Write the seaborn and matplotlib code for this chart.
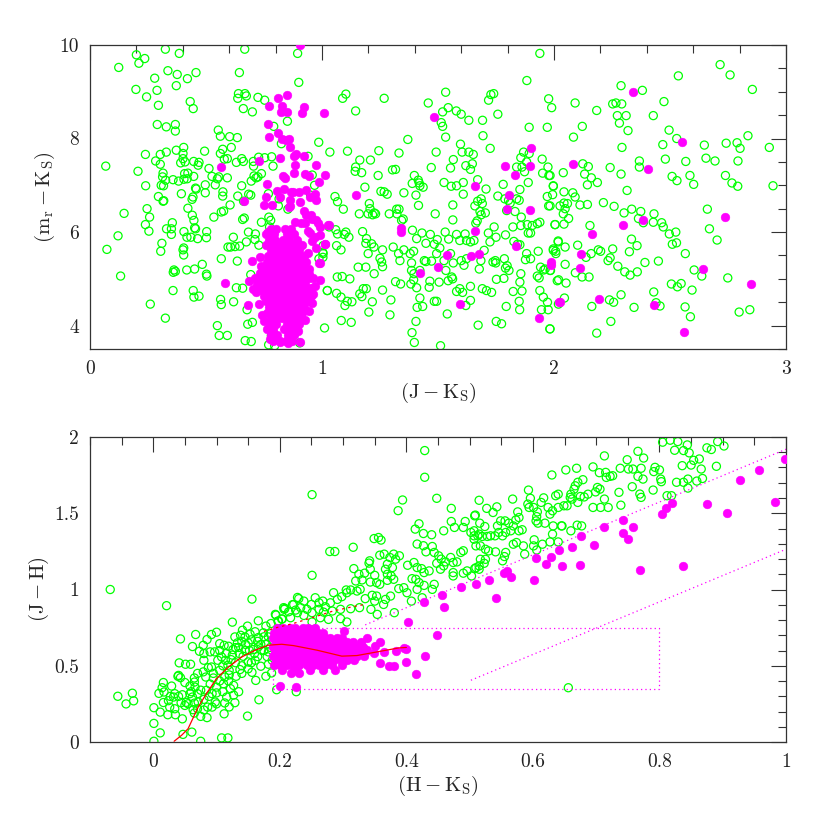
import numpy as np
import pandas as pd
import matplotlib
matplotlib.use("Agg")
import matplotlib.pyplot as plt
from matplotlib.ticker import MultipleLocator, FuncFormatter
import seaborn as sns

# ---------------- data: top panel (J-Ks, mr-Ks) ----------------
top_field = [
    (0.20,9.79),(0.236,9.71),(0.211,9.61),(0.325,9.91),(0.385,9.82),(0.124,9.52),(0.336,9.45),(0.376,9.37),
    (0.42,9.28),(0.457,9.41),(0.279,9.29),(0.372,9.13),(0.289,9.03),(0.198,9.05),(0.244,8.89),(0.295,8.71),
    (0.432,8.79),(0.445,8.64),(0.667,9.91),(0.644,9.41),(0.895,9.82),(0.90,9.2),(0.64,8.96),(0.668,8.96),
    (0.637,8.86),(0.674,8.91),(0.661,8.64),(0.70,8.57),(0.724,8.88),(0.753,8.82),
    (0.29,8.3),(0.329,8.25),(0.368,8.3),(0.368,8.16),(0.553,8.18),(0.562,8.05),(0.602,8.04),(0.635,8.02),
    (0.609,7.81),(0.572,7.77),(0.562,7.68),(0.494,7.73),(0.404,7.81),(0.372,7.75),(0.329,7.71),(0.239,7.66),
    (0.303,7.66),(0.283,7.52),(0.303,7.45),(0.401,7.68),(0.401,7.57),(0.391,7.48),(0.41,7.5),(0.447,7.51),
    (0.47,7.49),(0.466,7.43),(0.513,7.36),(0.579,7.56),(0.592,7.57),(0.631,7.49),(0.654,7.57),(0.661,7.51),
    (0.704,7.51),(0.705,7.41),(0.727,7.6),(0.753,7.59),(0.783,7.61),(0.789,7.41),(0.068,7.41),(0.207,7.3),
    (0.315,7.26),(0.313,7.18),(0.326,7.11),(0.307,7.0),(0.317,6.99),(0.358,7.12),(0.382,7.09),(0.405,7.13),
    (0.419,7.14),(0.408,7.25),(0.422,7.26),(0.447,7.19),(0.24,6.99),(0.458,6.92),(0.497,7.01),(0.497,6.84),
    (0.54,7.01),(0.526,7.19),(0.549,7.14),(0.555,7.18),(0.592,7.16),(0.654,6.99),(0.695,7.09),(0.707,7.2),
    (0.716,7.16),(0.573,6.86),(0.572,6.77),(0.295,6.76),(0.315,6.66),(0.318,6.67),(0.394,6.82),(0.444,6.75),
    (0.44,6.7),(0.455,6.94),(0.637,6.77),(0.662,6.66),(0.684,6.81),(0.693,6.79),(0.604,6.58),(0.422,6.51),
    (0.246,6.5),(0.257,6.32),(0.239,6.16),(0.254,6.02),(0.147,6.4),(0.355,6.2),(0.33,6.07),(0.351,6.07),
    (0.351,5.95),(0.441,6.36),(0.448,6.25),(0.451,6.09),(0.455,6.07),(0.405,6.01),(0.418,5.89),(0.435,5.89),
    (0.464,5.86),(0.503,6.01),(0.502,5.88),(0.534,6.32),(0.566,6.43),(0.576,6.45),(0.658,6.27),(0.665,6.3),
    (0.121,5.92),(0.073,5.63),(0.31,5.76),(0.305,5.59),(0.404,5.66),(0.401,5.62),(0.404,5.51),(0.618,5.89),
    (0.595,5.68),(0.606,5.68),(0.625,5.69),(0.645,5.70),(0.674,5.79),(0.683,6.0),(0.711,5.84),(0.728,5.72),
    (0.713,5.96),(0.566,5.43),(0.635,5.38),(0.484,5.31),(0.417,5.19),(0.451,5.21),(0.362,5.19),(0.368,5.16),
    (0.359,5.14),(0.502,5.1),(0.504,5.06),(0.132,5.06),(0.358,4.75),(0.445,4.75),(0.448,4.61),(0.47,4.63),
    (0.26,4.46),(0.325,4.16),(0.563,4.56),(0.566,4.45),(0.619,4.51),(0.631,4.81),(0.658,4.8),(0.677,4.34),
    (0.68,4.03),(0.549,4.0),(0.557,3.79),(0.592,3.79),(0.669,3.68),(0.695,3.66),(0.70,4.07),(0.693,5.09),
    (0.779,6.25),(0.774,6.11),(0.771,6.32),(0.77,5.98),(0.779,5.86),(0.739,6.21),(0.769,6.82),(0.812,6.56),
    (0.815,6.71),(0.851,8.37),(0.825,7.89),(0.792,8.26),(0.724,7.18),(0.739,7.25),(0.853,6.49),(0.951,6.79),
    (0.94,7.62),(0.986,7.92),(0.958,7.22),(0.968,7.0),(1.003,5.57),(1.004,5.46),(1.023,4.75),(1.011,3.95),
    (0.782,3.79),(0.796,3.57),(0.77,3.59),(0.904,3.63),(0.882,4.24),(0.987,5.43),(0.789,3.86),
    (1.939,9.82),(1.883,9.24),(1.089,8.86),(1.103,8.95),(1.268,8.86),(1.145,8.59),(1.533,8.99),(1.458,8.76),
    (1.544,8.66),(1.52,8.57),(1.579,8.59),(1.60,8.52),(1.633,8.39),(1.514,8.34),(1.52,8.26),(1.533,8.03),
    (1.718,8.82),(1.728,8.94),(1.74,8.96),(1.758,8.52),(1.692,8.39),(1.694,8.06),(1.725,7.79),(1.893,8.24),
    (1.977,8.85),(1.99,8.66),(1.971,8.24),(1.37,7.98),(1.034,7.71),(1.11,7.73),(1.245,7.74),(1.332,7.69),
    (1.492,7.71),(1.597,7.88),(1.604,7.71),(1.633,7.71),(1.652,7.66),(1.648,7.46),(1.566,7.55),(1.554,7.37),
    (1.471,7.38),(1.62,7.42),(1.64,7.34),(1.671,7.12),(1.163,7.54),(1.145,7.39),(1.143,7.3),(1.171,7.27),
    (1.209,7.54),(1.242,7.21),(1.304,7.33),(1.317,7.34),(1.398,7.21),(1.389,7.04),(1.415,7.11),(1.422,6.99),
    (1.436,6.96),(1.419,7.05),(1.526,7.06),(1.557,6.98),(1.58,6.99),(1.609,7.06),(1.185,6.96),(1.254,6.87),
    (1.268,6.86),(1.281,6.81),(1.353,6.84),(1.405,6.79),(1.056,6.76),(1.067,6.65),(1.092,6.49),(1.204,6.61),
    (1.207,6.5),(1.199,6.39),(1.218,6.37),(1.225,6.41),(1.231,6.39),(1.161,6.39),(1.29,6.39),(1.322,6.49),
    (1.332,6.49),(1.323,6.39),(1.35,6.28),(1.343,6.25),(1.416,6.57),(1.488,6.39),(1.564,6.58),(1.564,6.26),
    (1.609,6.81),(1.659,6.56),(1.671,6.66),(1.686,6.71),(1.691,6.61),(1.681,6.44),(1.704,6.41),(1.686,6.37),
    (1.669,6.24),(1.663,6.19),(1.707,6.92),(1.758,6.77),(1.781,7.02),(1.788,6.71),(1.804,6.68),(1.811,6.62),
    (1.839,6.71),(1.85,6.68),(1.796,6.46),(1.832,6.44),(1.859,6.32),(1.853,6.91),(1.889,7.06),(1.873,7.29),
    (1.862,7.39),(1.882,7.5),(1.869,7.71),(1.857,7.59),(1.893,7.68),(1.839,7.39),(1.949,7.56),(1.974,7.39),
    (1.951,7.26),(1.978,7.21),(1.997,6.99),(1.971,6.76),(1.977,6.56),(2.004,6.16),(1.031,6.11),(1.059,6.05),
    (1.067,5.96),(1.063,5.71),(1.082,5.62),(1.096,5.95),(1.103,6.0),(1.116,5.89),(1.005,5.71),(1.005,5.54),
    (1.175,6.01),(1.192,5.86),(1.214,5.75),(1.189,5.76),(1.199,5.54),(1.224,5.68),(1.261,5.62),(1.25,5.44),
    (1.257,5.36),(1.261,5.26),(1.156,5.25),(1.189,5.25),(1.225,5.11),(1.307,5.68),(1.33,5.54),(1.336,5.39),
    (1.353,5.62),(1.38,5.54),(1.395,5.59),(1.39,6.04),(1.408,5.86),(1.448,5.76),(1.467,5.95),(1.484,5.74),
    (1.497,5.84),(1.431,5.98),(1.386,5.34),(1.386,5.18),(1.396,5.11),(1.422,5.18),(1.441,5.39),(1.448,5.37),
    (1.472,5.38),(1.494,5.54),(1.508,5.66),(1.526,5.39),(1.534,5.18),(1.554,5.54),(1.566,5.34),(1.531,6.0),
    (1.546,5.85),(1.58,5.95),(1.594,5.82),(1.617,5.96),(1.623,5.82),(1.64,5.79),(1.655,5.82),(1.717,5.98),
    (1.724,5.79),(1.742,6.11),(1.75,5.89),(1.699,5.61),(1.737,5.36),(1.60,5.39),(1.612,5.29),(1.623,5.43),
    (1.678,5.21),(1.685,5.39),(1.559,5.04),(1.544,4.96),(1.563,5.0),(1.594,4.79),(1.606,4.71),(1.64,4.84),
    (1.58,4.73),(1.64,4.54),(1.62,4.43),(1.465,4.95),(1.462,4.82),(1.505,4.93),(1.484,4.52),(1.494,4.52),
    (1.422,4.59),(1.434,4.41),(1.41,4.39),(1.383,4.89),(1.395,4.98),(1.408,4.81),(1.317,4.94),(1.339,4.89),
    (1.297,4.55),(1.261,4.76),(1.12,5.0),(1.066,5.04),(1.087,5.05),(1.023,4.75),(1.063,4.69),(1.082,4.61),
    (1.099,4.43),(1.109,4.52),(1.129,4.51),(1.163,4.68),(1.178,4.79),(1.191,4.79),(1.172,4.62),(1.217,4.51),
    (1.202,4.29),(1.293,4.23),(1.083,4.11),(1.126,4.07),(1.405,4.09),(1.388,3.85),(1.398,3.64),(1.511,3.57),
    (1.54,4.25),(1.673,4.01),(1.751,4.09),(1.774,4.04),(1.794,4.41),(1.85,4.52),(1.852,4.34),(1.824,4.73),
    (1.862,4.74),(1.853,4.93),(1.857,5.11),(1.731,4.71),(1.752,4.99),(1.709,4.75),(1.691,4.79),(1.784,5.01),
    (1.791,5.23),(1.806,5.18),(1.798,5.28),(1.786,5.43),(1.877,5.41),(1.882,5.54),(1.899,5.43),(1.932,5.59),
    (1.942,5.25),(1.928,5.06),(1.936,5.02),(1.956,5.19),(1.962,5.21),(1.985,5.18),(1.997,5.61),(2.008,5.54),
    (2.018,5.79),(2.014,4.96),(1.939,4.75),(1.954,4.61),(1.946,4.34),(1.972,4.5),(1.975,4.34),(1.982,3.93),
    (1.899,5.98),(1.928,6.18),(1.939,6.21),(1.889,5.98),(1.823,6.11),(1.857,6.14),(1.885,6.16),(1.906,6.14),
    (1.791,5.94),(1.827,5.8),(1.843,5.74),(1.853,5.73),(1.747,5.39),(1.749,5.34),
    (2.716,9.58),(2.759,9.36),(2.536,9.34),(2.855,9.05),(2.289,9.13),(2.381,9.03),(2.474,8.79),(2.091,8.76),
    (2.253,8.74),(2.267,8.76),(2.292,8.74),(2.184,8.6),(2.273,8.49),(2.311,8.49),(2.282,8.33),(2.428,8.49),
    (2.319,8.17),(2.122,8.26),(2.084,8.03),(2.293,7.81),(2.496,8.18),(2.529,8.0),(2.469,7.87),(2.648,7.86),
    (2.742,7.9),(2.789,7.91),(2.802,7.79),(2.836,8.06),(2.928,7.81),(2.655,7.58),(2.694,7.52),(2.793,7.52),
    (2.48,7.56),(2.568,7.51),(2.368,7.52),(2.368,7.39),(2.242,7.38),(2.289,7.24),(2.04,7.27),(2.124,7.46),
    (2.148,7.4),(2.132,7.24),(2.161,7.16),(2.144,7.01),(2.187,7.06),(2.315,6.89),(2.509,7.19),(2.53,7.1),
    (2.586,7.21),(2.602,7.02),(2.739,7.21),(2.767,7.05),(2.792,6.98),(2.944,6.99),(1.983,7.21),(1.997,6.98),
    (1.994,6.8),(1.983,6.56),(2.005,6.16),(2.043,6.86),(2.043,6.62),(2.081,6.84),(2.091,6.75),(2.058,6.61),
    (2.026,6.56),(2.048,6.5),(2.04,6.39),(2.063,6.29),(2.043,6.17),(2.112,6.58),(2.144,6.59),(2.213,6.63),
    (2.259,6.55),(2.302,6.41),(2.335,6.49),(2.374,6.44),(2.364,6.29),(2.385,6.2),(2.431,6.39),(2.428,6.21),
    (2.464,6.2),(2.471,6.11),(2.497,5.96),(2.525,6.0),(2.51,5.74),(2.528,5.77),(2.661,6.49),(2.67,6.07),
    (2.703,5.83),(2.155,6.14),(2.334,5.85),(2.358,5.71),(2.325,5.58),(2.253,5.64),(2.191,5.62),(2.201,5.59),
    (2.138,5.46),(2.16,5.54),(2.102,5.72),(2.048,5.68),(2.018,5.81),(1.997,5.64),(2.007,5.59),(2.048,5.31),
    (2.092,5.13),(2.121,5.04),(2.151,5.04),(1.983,5.18),(2.02,4.98),(2.052,4.91),(2.233,5.39),(2.242,5.45),
    (2.275,5.27),(2.305,5.15),(2.328,5.08),(2.359,5.15),(2.392,5.35),(2.45,5.38),(2.566,5.54),(2.604,5.19),
    (2.637,5.06),(2.749,5.02),(2.506,4.89),(2.532,4.83),(2.548,4.9),(2.595,4.76),(2.43,4.72),(2.289,4.66),
    (2.239,4.55),(2.257,4.5),(2.163,4.41),(2.045,4.59),(2.019,4.46),(2.345,4.39),(2.44,4.49),(2.457,4.42),
    (2.565,4.4),(2.588,4.19),(2.798,4.29),(2.844,4.34),(2.245,4.09),(2.184,3.84),(1.983,3.93),
]

top_sparse_members = [
    (0.905,10.0),(0.773,8.7),(0.81,8.86),(0.849,8.94),(0.828,8.7),(0.822,8.56),(0.848,8.57),(0.922,8.68),
    (0.914,8.54),(1.01,8.55),(0.769,8.32),(0.772,8.03),(0.812,8.12),(0.829,8.0),(0.846,7.96),(0.859,7.98),
    (0.862,7.82),(0.819,7.59),(0.878,7.62),(0.889,7.66),(0.922,7.63),(0.884,7.44),(0.973,7.44),(0.73,7.53),
    (0.563,7.39),(0.83,7.19),(0.842,7.16),(0.881,7.26),(0.925,7.24),(0.944,7.19),(0.987,7.08),(1.011,7.23),
    (0.763,7.02),(0.806,6.88),(0.838,6.92),(0.865,6.86),(0.876,6.86),(0.902,6.86),(0.932,6.91),(0.759,6.75),
    (0.749,6.58),(0.786,6.58),(0.818,6.75),(0.861,6.69),(0.863,6.56),(0.856,6.54),(0.905,6.64),(0.947,6.75),
    (0.971,6.81),(0.975,6.69),(0.665,6.66),(0.924,6.45),(0.932,6.36),(0.951,6.36),(0.957,6.27),(0.882,6.21),
    (0.911,6.19),(0.925,6.2),(0.976,6.26),(0.983,6.19),(0.99,6.11),(1.026,6.16),(0.94,6.02),(0.948,5.98),
    (0.971,5.89),(0.957,5.81),(1.013,5.74),(0.94,5.56),(0.974,5.66),(0.987,5.34),(0.943,5.21),(0.945,5.11),
    (0.968,4.84),(0.954,4.81),(0.963,4.68),(0.697,5.39),(0.733,5.46),(0.739,5.28),(0.684,4.95),(0.701,4.79),
    (0.58,4.91),(0.681,4.44),(0.73,4.46),(0.774,3.72),(0.82,3.66),(0.853,3.63),(0.897,3.88),(0.906,3.64),
    (0.767,6.0),(0.712,5.02),(0.716,4.71),(0.962,5.02),(0.958,4.48),(0.944,4.31),(0.928,4.12),(0.742,4.22),
    (0.748,4.09),
    (1.482,8.46),(1.146,6.79),(1.031,6.16),(0.991,5.93),(1.015,5.74),(0.991,5.34),(0.991,4.98),(1.339,6.09),
    (1.339,6.01),(1.422,5.12),(1.498,5.26),(1.54,5.5),(1.593,4.46),(1.643,5.48),(1.678,5.54),(1.658,6.02),
    (1.659,6.98),(1.788,7.42),(1.833,7.21),(1.896,7.42),(1.90,7.8),(1.807,6.79),(1.798,6.49),(1.896,6.48),
    (1.836,5.70),(1.987,5.36),(1.987,5.29),(2.023,4.51),(1.935,4.16),
    (2.342,8.99),(2.552,7.93),(2.081,7.45),(2.404,7.34),(2.737,6.32),(2.296,6.16),(2.385,6.26),(2.163,5.96),
    (2.118,5.54),(2.112,5.23),(2.642,5.20),(2.851,4.89),(2.026,4.51),(2.193,4.56),(2.433,4.45),(2.559,3.87),
]

# dense sequence of members, read row by row: (mr-Ks, [J-Ks values])
top_core_rows = [
    (6.06, [0.781, 0.803, 0.842, 0.868]),
    (5.95, [0.758, 0.792, 0.851, 0.879]),
    (5.84, [0.772, 0.797, 0.833, 0.858, 0.892]),
    (5.72, [0.757, 0.786, 0.812, 0.833, 0.862, 0.884, 0.913]),
    (5.61, [0.779, 0.802, 0.828, 0.857, 0.881, 0.903]),
    (5.49, [0.768, 0.797, 0.821, 0.843, 0.872, 0.893, 0.921]),
    (5.37, [0.762, 0.784, 0.812, 0.836, 0.858, 0.886, 0.908, 0.931]),
    (5.24, [0.744, 0.771, 0.796, 0.818, 0.847, 0.869, 0.897, 0.918]),
    (5.12, [0.731, 0.758, 0.787, 0.809, 0.836, 0.861, 0.883, 0.911, 0.936]),
    (5.01, [0.742, 0.766, 0.789, 0.817, 0.839, 0.866, 0.891, 0.914, 0.942]),
    (4.88, [0.721, 0.749, 0.776, 0.801, 0.824, 0.852, 0.874, 0.902, 0.926]),
    (4.77, [0.736, 0.762, 0.783, 0.811, 0.834, 0.861, 0.887, 0.909, 0.933]),
    (4.64, [0.751, 0.773, 0.802, 0.826, 0.848, 0.876, 0.898, 0.927, 0.951]),
    (4.52, [0.758, 0.787, 0.809, 0.836, 0.861, 0.883, 0.912, 0.934]),
    (4.40, [0.771, 0.794, 0.822, 0.844, 0.871, 0.893, 0.921]),
    (4.28, [0.764, 0.791, 0.813, 0.841, 0.866, 0.888, 0.916]),
    (4.16, [0.781, 0.806, 0.829, 0.856, 0.879, 0.909]),
    (4.04, [0.774, 0.801, 0.849, 0.876, 0.899]),
    (3.92, [0.762, 0.789, 0.838, 0.866, 0.891]),
    (3.80, [0.779, 0.807, 0.854, 0.881]),
    (3.68, [0.791, 0.818, 0.846, 0.869]),
]

# ---------------- data: bottom panel (H-Ks, J-H) ----------------
bot_field = [
    (-0.068,1.0),(0.021,0.894),(0.156,0.937),(-0.056,0.30),(-0.043,0.25),(-0.033,0.32),(-0.031,0.27),
    (0.001,0.225),(0.001,0.122),(0.011,0.06),(0.001,0.005),(0.016,0.39),(0.014,0.356),(0.009,0.319),
    (0.017,0.328),(0.029,0.367),(0.024,0.271),(0.023,0.179),(0.035,0.179),(0.034,0.218),(0.032,0.295),
    (0.04,0.299),(0.046,0.31),(0.039,0.431),(0.043,0.422),(0.041,0.519),(0.051,0.51),(0.059,0.51),
    (0.043,0.676),(0.067,0.705),(0.062,0.626),(0.046,0.152),(0.047,0.05),(0.061,0.065),(0.044,0.258),
    (0.052,0.26),(0.055,0.251),(0.065,0.255),(0.071,0.262),(0.05,0.39),(0.058,0.367),(0.065,0.393),
    (0.066,0.36),(0.058,0.317),(0.062,0.295),(0.07,0.317),(0.063,0.212),(0.07,0.218),(0.075,0.168),
    (0.075,0.005),(0.108,0.027),(0.118,0.027),(0.079,0.46),(0.083,0.426),(0.087,0.488),(0.08,0.536),
    (0.092,0.492),(0.079,0.634),(0.085,0.672),(0.092,0.705),(0.10,0.72),(0.073,0.595),(0.08,0.58),
    (0.09,0.591),(0.097,0.591),(0.084,0.339),(0.088,0.299),(0.093,0.317),(0.10,0.322),(0.086,0.229),
    (0.093,0.229),(0.098,0.262),(0.112,0.185),(0.113,0.256),(0.116,0.295),(0.127,0.308),(0.129,0.258),
    (0.122,0.35),(0.111,0.382),(0.113,0.426),(0.119,0.40),(0.127,0.371),(0.102,0.536),(0.108,0.558),
    (0.114,0.536),(0.123,0.54),(0.118,0.503),(0.105,0.645),(0.112,0.634),(0.119,0.628),(0.126,0.606),
    (0.13,0.619),(0.133,0.65),(0.125,0.786),(0.129,0.689),(0.138,0.70),(0.145,0.689),(0.141,0.733),
    (0.149,0.76),(0.131,0.431),(0.137,0.475),(0.149,0.17),(0.156,0.457),(0.162,0.404),(0.167,0.277),
    (0.142,0.562),(0.15,0.525),(0.161,0.536),(0.17,0.497),(0.178,0.431),(0.158,0.606),(0.166,0.624),
    (0.171,0.602),(0.179,0.641),(0.182,0.591),(0.153,0.707),(0.161,0.723),(0.166,0.685),(0.174,0.716),
    (0.182,0.689),(0.166,0.795),(0.178,0.76),(0.186,0.777),(0.188,0.668),(0.188,0.536),(0.182,0.51),
    (0.194,0.832),(0.198,0.793),(0.203,0.806),(0.208,0.876),(0.214,0.854),(0.22,0.90),(0.228,0.948),
    (0.225,0.865),(0.187,0.453),(0.195,0.343),(0.04,0.437),(0.016,0.259),(0.027,0.299),(0.034,0.317),
    (0.011,0.196),(0.026,0.229),(0.136,0.58),(0.146,0.64),(0.152,0.60),(0.095,0.45),(0.105,0.47),
    (0.105,0.60),(0.115,0.58),(0.125,0.57),(0.135,0.62),(0.14,0.66),(0.15,0.65),(0.155,0.67),(0.165,0.66),
    (0.17,0.64),(0.175,0.69),(0.185,0.71),(0.16,0.58),(0.145,0.60),(0.12,0.47),(0.11,0.50),(0.13,0.52),
    (0.14,0.50),(0.155,0.52),(0.165,0.56),(0.175,0.60),(0.185,0.62),(0.18,0.56),(0.15,0.48),(0.09,0.38),
    (0.10,0.36),(0.105,0.40),(0.095,0.42),(0.12,0.44),(0.14,0.45),(0.065,0.42),(0.07,0.45),(0.06,0.33),
    (0.075,0.34),(0.08,0.28),(0.05,0.24),(0.065,0.19),(0.08,0.21),(0.10,0.25),(0.11,0.33),(0.135,0.33),
    (0.12,0.23),(0.085,0.16),
    (0.429,1.911),(0.429,1.736),(0.251,1.622),(0.448,1.598),(0.471,1.532),(0.387,1.517),(0.394,1.587),
    (0.42,1.431),(0.414,1.396),(0.427,1.367),(0.44,1.359),(0.459,1.385),(0.471,1.446),(0.476,1.407),
    (0.493,1.446),(0.49,1.407),(0.508,1.483),(0.502,1.374),(0.507,1.352),(0.515,1.363),(0.349,1.334),
    (0.356,1.341),(0.36,1.324),(0.279,1.249),(0.287,1.249),(0.316,1.277),(0.251,1.093),(0.342,1.188),
    (0.341,1.173),(0.358,1.225),(0.365,1.232),(0.374,1.21),(0.38,1.232),(0.383,1.199),(0.389,1.221),
    (0.37,1.166),(0.378,1.144),(0.367,1.133),(0.37,1.10),(0.376,1.089),(0.417,1.298),(0.427,1.287),
    (0.431,1.247),(0.441,1.282),(0.444,1.243),(0.451,1.221),(0.455,1.199),(0.462,1.181),(0.47,1.21),
    (0.474,1.177),(0.48,1.181),(0.486,1.243),(0.49,1.254),(0.402,1.159),(0.412,1.177),(0.417,1.144),
    (0.424,1.137),(0.428,1.111),(0.436,1.122),(0.448,1.172),(0.454,1.133),(0.459,1.155),(0.474,1.111),
    (0.474,1.089),(0.49,1.107),(0.496,1.122),(0.508,1.137),(0.515,1.155),(0.317,1.137),(0.325,1.10),
    (0.334,1.107),(0.35,1.093),(0.343,1.133),(0.312,0.997),(0.32,1.056),(0.33,1.063),(0.343,1.049),
    (0.353,1.045),(0.358,1.034),(0.37,1.06),(0.38,1.067),(0.305,0.997),(0.306,0.979),(0.322,0.99),
    (0.327,1.001),(0.335,0.94),(0.346,0.962),(0.353,0.957),(0.35,0.924),(0.367,0.935),(0.375,0.957),
    (0.388,1.006),(0.396,1.012),(0.401,0.979),(0.409,1.071),(0.415,1.067),(0.42,1.045),(0.417,1.001),
    (0.428,1.027),(0.441,1.001),(0.444,1.034),(0.408,0.924),(0.425,0.946),(0.344,0.87),(0.354,0.837),
    (0.364,0.902),(0.381,0.848),(0.285,0.979),(0.291,0.935),(0.298,0.953),(0.28,0.913),(0.272,0.887),
    (0.256,0.946),(0.262,0.913),(0.268,0.924),(0.25,0.902),(0.243,0.87),(0.23,0.94),(0.238,0.924),
    (0.233,0.881),(0.222,0.902),(0.207,0.87),(0.206,0.881),(0.193,0.837),(0.197,0.793),(0.204,0.807),
    (0.238,0.83),(0.251,0.848),(0.262,0.87),(0.269,0.852),(0.283,0.859),(0.296,0.87),(0.312,0.874),
    (0.326,0.881),(0.264,0.815),(0.277,0.804),(0.296,0.809),(0.306,0.787),(0.251,0.787),(0.217,0.815),
    (0.228,0.848),(0.226,0.33),(0.656,0.356),
    (0.805,1.966),(0.817,1.979),(0.829,1.97),(0.824,1.913),(0.838,1.911),(0.844,1.948),(0.847,1.896),
    (0.854,1.847),(0.863,1.856),(0.875,1.929),(0.882,1.918),(0.892,1.97),(0.902,1.941),(0.89,1.808),
    (0.866,1.79),(0.85,1.816),(0.836,1.812),(0.766,1.906),(0.775,1.862),(0.749,1.851),(0.713,1.876),
    (0.669,1.795),(0.652,1.784),(0.63,1.751),(0.695,1.804),(0.705,1.766),(0.715,1.768),(0.722,1.742),
    (0.716,1.735),(0.726,1.746),(0.738,1.795),(0.751,1.79),(0.758,1.79),(0.771,1.795),(0.793,1.801),
    (0.80,1.784),(0.791,1.773),(0.766,1.742),(0.774,1.724),(0.757,1.674),(0.769,1.626),(0.771,1.604),
    (0.79,1.652),(0.802,1.724),(0.803,1.707),(0.827,1.703),(0.838,1.703),(0.845,1.724),(0.859,1.711),
    (0.868,1.728),(0.812,1.615),(0.819,1.615),(0.845,1.665),(0.736,1.637),(0.739,1.553),(0.713,1.593),
    (0.695,1.538),(0.707,1.538),(0.719,1.538),(0.702,1.669),(0.706,1.658),(0.699,1.64),(0.687,1.625),
    (0.681,1.607),(0.675,1.61),(0.679,1.72),(0.671,1.703),(0.667,1.68),(0.665,1.658),(0.66,1.625),
    (0.659,1.604),(0.671,1.571),(0.662,1.593),(0.64,1.625),(0.636,1.615),(0.649,1.549),(0.654,1.549),
    (0.64,1.538),(0.617,1.601),(0.613,1.571),(0.624,1.538),(0.631,1.516),(0.627,1.494),(0.593,1.652),
    (0.596,1.598),(0.592,1.56),(0.601,1.538),(0.594,1.538),(0.607,1.509),(0.605,1.45),(0.608,1.435),
    (0.619,1.435),(0.606,1.478),(0.632,1.417),(0.646,1.417),(0.568,1.593),(0.576,1.509),(0.578,1.472),
    (0.573,1.456),(0.556,1.45),(0.562,1.435),(0.569,1.417),(0.565,1.385),(0.578,1.385),(0.583,1.392),
    (0.549,1.45),(0.544,1.417),(0.546,1.374),(0.54,1.352),(0.552,1.352),(0.557,1.374),(0.527,1.532),
    (0.537,1.505),(0.543,1.542),(0.515,1.585),(0.509,1.488),(0.516,1.435),(0.524,1.413),(0.507,1.385),
    (0.513,1.352),(0.52,1.348),(0.528,1.348),(0.533,1.352),(0.507,1.33),(0.51,1.286),(0.517,1.286),
    (0.525,1.264),(0.53,1.253),(0.517,1.198),(0.525,1.198),(0.523,1.172),(0.51,1.143),(0.515,1.133),
    (0.503,1.089),(0.541,1.247),(0.555,1.216),(0.557,1.243),(0.552,1.188),(0.569,1.297),(0.574,1.308),
    (0.585,1.286),(0.587,1.232),(0.601,1.286),(0.602,1.326),(0.615,1.297),(0.627,1.312),(0.64,1.312),
    (0.606,1.259),(0.631,1.363),(0.645,1.417),(0.66,1.385),(0.67,1.422),(0.677,1.417),
]

bot_sparse_members = [
    (0.999,1.856),(0.957,1.784),(0.928,1.718),(0.983,1.571),(0.875,1.56),(0.906,1.501),(0.82,1.567),
    (0.81,1.534),(0.804,1.494),(0.742,1.453),(0.758,1.408),(0.742,1.371),(0.751,1.334),(0.712,1.408),
    (0.676,1.352),(0.696,1.295),(0.662,1.277),(0.641,1.259),(0.628,1.211),(0.605,1.207),(0.621,1.169),
    (0.646,1.157),(0.674,1.161),(0.77,1.131),(0.837,1.155),(0.554,1.109),(0.559,1.124),(0.566,1.08),
    (0.531,1.065),(0.51,1.034),(0.602,1.06),(0.542,0.942),
    (0.486,1.016),(0.457,0.964),(0.428,0.92),(0.459,0.885),(0.402,0.786),(0.448,0.703),(0.43,0.563),
    (0.416,0.449),(0.399,0.527),(0.338,0.681),(0.301,0.731),(0.396,0.615),(0.383,0.596),(0.364,0.589),
    (0.201,0.365),(0.225,0.361),(0.218,0.453),(0.231,0.453),(0.381,0.501),(0.372,0.497),(0.359,0.519),
    (0.359,0.655),(0.35,0.628),(0.338,0.606),(0.349,0.584),(0.40,0.611),
]

# dense dwarf-locus members, read row by row: (J-H, [H-Ks values])
bot_core_rows = [
    (0.745, [0.196, 0.205, 0.216, 0.224, 0.236, 0.244, 0.255]),
    (0.715, [0.191, 0.201, 0.209, 0.221, 0.229, 0.241, 0.249, 0.261, 0.268]),
    (0.685, [0.19, 0.199, 0.211, 0.219, 0.231, 0.239, 0.251, 0.259, 0.271, 0.279, 0.291, 0.298]),
    (0.655, [0.194, 0.204, 0.214, 0.226, 0.234, 0.246, 0.254, 0.266, 0.274, 0.286, 0.294, 0.306, 0.316, 0.328]),
    (0.625, [0.19, 0.199, 0.211, 0.219, 0.231, 0.239, 0.251, 0.259, 0.271, 0.279, 0.291, 0.299, 0.311, 0.319, 0.331]),
    (0.595, [0.192, 0.204, 0.213, 0.224, 0.233, 0.244, 0.253, 0.264, 0.273, 0.284, 0.293, 0.304, 0.313, 0.324, 0.336]),
    (0.565, [0.19, 0.199, 0.211, 0.219, 0.231, 0.239, 0.251, 0.259, 0.271, 0.279, 0.291, 0.299, 0.311, 0.322, 0.333]),
    (0.535, [0.194, 0.204, 0.214, 0.226, 0.234, 0.246, 0.254, 0.266, 0.274, 0.286, 0.296, 0.306, 0.318]),
    (0.505, [0.191, 0.201, 0.211, 0.221, 0.231, 0.243, 0.252, 0.262, 0.272, 0.283, 0.298]),
    (0.475, [0.203, 0.222, 0.247, 0.268, 0.287]),
]

# reference loci and selection boundaries
dwarf_hk = [0.033, 0.045, 0.055, 0.071, 0.084, 0.10, 0.119, 0.14, 0.161, 0.182, 0.203, 0.222, 0.259, 0.298, 0.322, 0.359, 0.388, 0.40]
dwarf_jh = [0.005, 0.045, 0.087, 0.229, 0.317, 0.416, 0.492, 0.558, 0.602, 0.635, 0.641, 0.632, 0.602, 0.563, 0.567, 0.595, 0.617, 0.62]
giant_hk = [0.175, 0.19, 0.222, 0.264, 0.285, 0.322, 0.332]
giant_jh = [0.725, 0.745, 0.778, 0.832, 0.86, 0.893, 0.90]
box_hk = [0.19, 0.80, 0.80, 0.19, 0.19]
box_jh = [0.35, 0.35, 0.75, 0.75, 0.35]
redd_upper_hk = [0.335, 1.0]
redd_upper_jh = [0.768, 1.92]
redd_lower_hk = [0.502, 1.0]
redd_lower_jh = [0.405, 1.264]

# ---------------- build tables ----------------
def pts_df(pts, xn, yn):
    return pd.DataFrame(pts, columns=[xn, yn])

def rows_df(rows, xn, yn):
    recs = [(x, y) for y, xs in rows for x in xs]
    return pd.DataFrame(recs, columns=[xn, yn])

t_field = pts_df(top_field, "jk", "mk")
t_mem = pd.concat([pts_df(top_sparse_members, "jk", "mk"), rows_df(top_core_rows, "jk", "mk")], ignore_index=True)
b_field = pts_df(bot_field, "hk", "jh")
b_mem = pd.concat([pts_df(bot_sparse_members, "hk", "jh"), rows_df(bot_core_rows, "hk", "jh")], ignore_index=True)

# ---------------- style ----------------
sns.set_style("white")
plt.rcParams["font.family"] = ["cmr10", "DejaVu Serif"]
plt.rcParams["mathtext.fontset"] = "cm"
plt.rcParams["axes.formatter.use_mathtext"] = True

GREEN = "#00ff00"
MAG = "#ff00ff"

fig = plt.figure(figsize=(8.3, 8.3), dpi=100)
ax1 = fig.add_axes([0.1084, 0.5795, 0.8386, 0.3663])
ax2 = fig.add_axes([0.1084, 0.106, 0.8386, 0.3675])

def style_axis(ax):
    for sp in ax.spines.values():
        sp.set_color("#333333")
        sp.set_linewidth(0.9)
    ax.tick_params(which="both", direction="in", top=True, right=True, colors="#333333",
                   labelcolor="#222222", labelsize=14, width=0.8)
    ax.tick_params(which="major", length=11, pad=8)
    ax.tick_params(which="minor", length=6)

fmt = FuncFormatter(lambda v, p: ("%g" % v))

# top panel
sns.scatterplot(data=t_field, x="jk", y="mk", ax=ax1, marker="o", s=34,
                facecolor="none", edgecolor=GREEN, linewidth=0.9, zorder=2, legend=False)
sns.scatterplot(data=t_mem, x="jk", y="mk", ax=ax1, marker="o", s=40,
                color=MAG, edgecolor=MAG, linewidth=0.3, zorder=3, legend=False)
ax1.set_xlim(0, 3)
ax1.set_ylim(3.5, 10)
ax1.xaxis.set_major_locator(MultipleLocator(1))
ax1.xaxis.set_minor_locator(MultipleLocator(0.2))
ax1.yaxis.set_major_locator(MultipleLocator(2))
ax1.yaxis.set_minor_locator(MultipleLocator(0.5))
ax1.xaxis.set_major_formatter(fmt)
ax1.yaxis.set_major_formatter(fmt)
style_axis(ax1)
ax1.set_xlabel(r"$(\mathrm{J-K_S})$", fontsize=15, labelpad=2)
ax1.set_ylabel(r"$(\mathrm{m_r-K_S})$", fontsize=15, labelpad=2)

# bottom panel
sns.scatterplot(data=b_field, x="hk", y="jh", ax=ax2, marker="o", s=34,
                facecolor="none", edgecolor=GREEN, linewidth=0.9, zorder=2, legend=False)
sns.scatterplot(data=b_mem, x="hk", y="jh", ax=ax2, marker="o", s=40,
                color=MAG, edgecolor=MAG, linewidth=0.3, zorder=3, legend=False)
line_kw = dict(sort=False, estimator=None, legend=False)
sns.lineplot(x=box_hk, y=box_jh, ax=ax2, color=MAG, linewidth=0.9, linestyle=(0, (1, 2.5)), zorder=4, **line_kw)
sns.lineplot(x=redd_upper_hk, y=redd_upper_jh, ax=ax2, color=MAG, linewidth=0.9, linestyle=(0, (1, 2.5)), zorder=4, **line_kw)
sns.lineplot(x=redd_lower_hk, y=redd_lower_jh, ax=ax2, color=MAG, linewidth=0.9, linestyle=(0, (1, 2.5)), zorder=4, **line_kw)
sns.lineplot(x=giant_hk, y=giant_jh, ax=ax2, color="red", linewidth=0.9, linestyle=(0, (2, 3)), zorder=5, **line_kw)
sns.lineplot(x=dwarf_hk, y=dwarf_jh, ax=ax2, color="red", linewidth=0.9, zorder=5, **line_kw)
ax2.set_xlim(-0.1, 1.0)
ax2.set_ylim(0, 2)
ax2.xaxis.set_major_locator(MultipleLocator(0.2))
ax2.xaxis.set_minor_locator(MultipleLocator(0.05))
ax2.yaxis.set_major_locator(MultipleLocator(0.5))
ax2.yaxis.set_minor_locator(MultipleLocator(0.1))
ax2.xaxis.set_major_formatter(fmt)
ax2.yaxis.set_major_formatter(fmt)
style_axis(ax2)
ax2.set_xlabel(r"$(\mathrm{H-K_S})$", fontsize=15, labelpad=2)
ax2.set_ylabel(r"$(\mathrm{J-H})$", fontsize=15, labelpad=2)

fig.savefig("out.png", dpi=100)
